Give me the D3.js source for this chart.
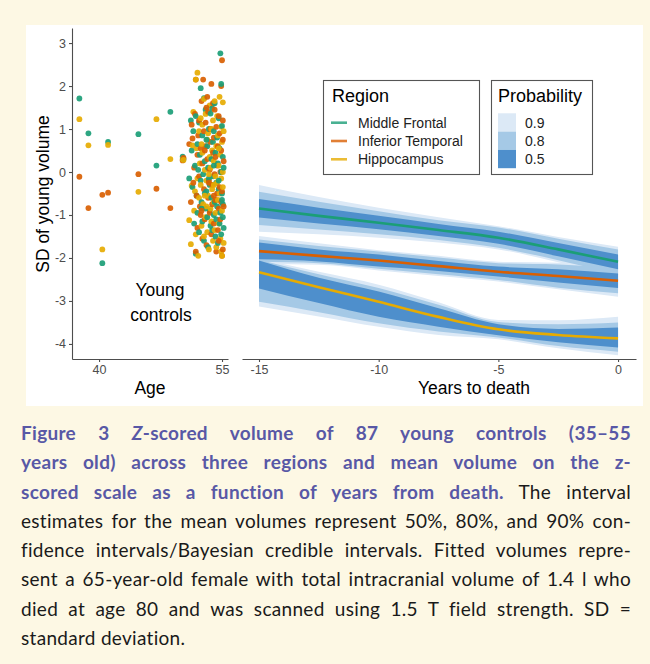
<!DOCTYPE html>
<html>
<head>
<meta charset="utf-8">
<script src="https://cdn.jsdelivr.net/npm/d3@7"></script>
<style>
  body { margin: 0; background: #fdf8e4; }
  #wrap { position: relative; width: 650px; height: 664px; }
  #chart { position: absolute; left: 0; top: 0; }
  #caption { position: absolute; left: 21px; top: 418px; width: 610px;
             font-family: Lato, "Open Sans", sans-serif; font-size: 19px; letter-spacing: 0.3px;
             line-height: 29.3px; color: #1a1a1a; }
  #caption .ln { text-align: justify; text-align-last: justify; white-space: nowrap; }
  #caption .ln.last { text-align-last: left; }
  #caption b { color: #5858a6; }
</style>
</head>
<body>
<div id="wrap">
  <svg id="chart" width="650" height="420"></svg>
  <div id="caption"></div>
</div>
<script>
// ---- data -------------------------------------------------------------
var regionNames = ["Middle Frontal", "Inferior Temporal", "Hippocampus"];
var regionColors = ["#1b9e77", "#d95f02", "#e6ab02"];
var probLabels = ["0.9", "0.8", "0.5"];
var probColors = ["#dce9f6", "#a5c9e6", "#4e8fcc"];

var ageTicks = [40, 55];
var sdTicks = [-4, -3, -2, -1, 0, 1, 2, 3];
var yearTicks = [-15, -10, -5, 0];

// young controls: age and z-scored volume per region (one entry per subject)
var controlAge = [37.6, 38.7, 40.4, 41.1, 44.8, 47.0, 48.7,
  50.2, 50.3, 51.0, 51.2, 51.3, 51.4, 51.5, 51.6, 51.7, 51.8, 51.8, 51.9, 52.0, 52.0, 52.1, 52.2,
  52.2, 52.3, 52.4, 52.4, 52.5, 52.6, 52.6, 52.7, 52.8, 52.8, 52.9, 53.0, 53.0, 53.1, 53.2, 53.2,
  53.3, 53.3, 53.4, 53.5, 53.5, 53.6, 53.6, 53.7, 53.7, 53.8, 53.8, 53.9, 53.9, 54.0, 54.0, 54.1,
  54.1, 54.2, 54.2, 54.3, 54.3, 54.4, 54.4, 54.5, 54.5, 54.6, 54.6, 54.7, 54.7, 54.8, 54.8, 54.9,
  54.9, 54.9, 55.0, 55.0, 55.0, 55.1, 55.1, 55.1, 55.2, 55.2, 53.4, 52.9, 54.0, 53.1, 54.6, 52.5];
var mfVol = [1.71, 0.90, -2.12, 0.70, 0.88, 0.15, 1.40,
  0.36, 0.30, -0.15, 1.20, 0.50, -0.35, 0.95, -1.20, 0.15, -1.90, 1.30, -0.55, 0.65, -0.95, 0.05, 1.15,
  -1.40, 0.40, -0.20, 1.95, -0.70, 0.85, -1.15, -0.05, 1.72, -1.60, 0.25, -0.85, 1.45, -0.45, 0.60, -1.05,
  0.10, -1.75, 1.00, -0.30, -0.90, 1.36, -1.25, 0.30, -0.60, 1.48, -1.35, 0.70, -0.10, -1.00, 0.95, -0.70,
  1.60, -1.50, 0.45, -0.25, -1.10, 0.80, -0.80, 0.20, -1.65, 1.25, -0.40, -1.20, 0.55, 2.76, -0.95, 0.00,
  -1.45, 2.05, -0.65, 1.07, -0.50, -1.05, 0.35, -0.75, 0.10, -1.30, -0.15, -0.50, 0.15, 0.75, -0.20, -0.85];
var itVol = [-0.11, -0.84, -0.53, -0.48, -0.05, -0.39, -0.84,
  0.27, 0.33, 0.65, -0.70, 1.10, 0.78, -0.25, 0.10, 1.35, -1.85, 2.15, -0.55, 0.40, -1.30, 0.85, 1.20,
  -0.10, -0.80, 0.55, -1.00, 1.65, 0.20, -1.55, 2.15, 0.95, -0.40, -1.10, 1.15, 0.60, -1.70, 1.75, 0.30,
  -0.60, 1.40, -0.20, 0.05, -0.95, 1.00, 0.70, -1.45, 2.05, -0.30, -0.75, 0.45, 1.60, -1.20, 0.80, -0.05,
  1.45, -0.65, 0.35, -1.85, 1.05, -0.50, 0.15, -1.35, 0.60, -0.85, 1.30, -0.35, 0.90, 0.00, -1.10, 2.00,
  -0.70, 0.50, -1.95, 2.60, -0.45, 1.20, -1.80, 0.75, -0.80, 0.25, -0.25, 0.50, -0.55, 1.50, -1.60, -0.90];
var hcVol = [1.23, 0.62, -1.80, 0.63, -0.46, 1.23, 0.30,
  0.30, 0.28, -1.12, -1.68, -0.32, 0.62, 1.40, -0.90, -0.45, -1.45, 2.15, 0.55, 2.31, -0.15, -1.95, 0.95,
  -0.60, 0.20, 1.25, -0.30, -1.25, 0.45, 1.10, -0.75, 1.70, -1.50, 0.05, -1.05, 1.35, -0.20, 0.75, -1.40,
  0.90, -0.55, -1.80, 0.35, 1.55, -0.85, 0.10, -1.15, 1.00, -0.40, 0.50, -1.60, 1.20, -0.70, 0.25, -1.35,
  1.65, -0.10, -0.95, 0.60, -1.75, 1.30, -0.25, 0.85, -0.65, -1.20, 0.15, 1.75, -0.50, -1.55, 0.40, -0.15,
  1.05, -1.85, 0.70, -0.90, -1.95, 0.00, 1.62, -0.35, -1.65, 0.95, -0.05, -0.55, -0.30, -0.80, 0.55, 0.65];

// fitted mean volume and intervals vs years to death
var fitYears = [-15, -12.5, -10, -7.5, -5, -2.5, 0];

var mfMean = [-0.85, -1.02, -1.18, -1.35, -1.53, -1.80, -2.09];
var mfLo50 = [-1.06, -1.20, -1.33, -1.49, -1.67, -1.96, -2.26];
var mfHi50 = [-0.63, -0.83, -1.02, -1.21, -1.39, -1.65, -1.92];
var mfLo80 = [-1.23, -1.34, -1.45, -1.58, -1.76, -2.05, -2.39];
var mfHi80 = [-0.46, -0.69, -0.91, -1.12, -1.29, -1.55, -1.80];
var mfLo90 = [-1.39, -1.45, -1.53, -1.64, -1.80, -2.10, -2.44];
var mfHi90 = [-0.30, -0.58, -0.83, -1.05, -1.26, -1.51, -1.74];

var itMean = [-1.84, -1.95, -2.06, -2.19, -2.32, -2.42, -2.53];
var itLo50 = [-2.03, -2.08, -2.20, -2.30, -2.43, -2.57, -2.70];
var itHi50 = [-1.64, -1.80, -1.92, -2.07, -2.20, -2.26, -2.36];
var itLo80 = [-2.09, -2.12, -2.25, -2.38, -2.51, -2.69, -2.82];
var itHi80 = [-1.57, -1.72, -1.85, -1.99, -2.12, -2.15, -2.23];
var itLo90 = [-2.14, -2.16, -2.29, -2.42, -2.55, -2.73, -2.90];
var itHi90 = [-1.49, -1.66, -1.82, -1.95, -2.09, -2.11, -2.16];

var hcMean = [-2.33, -2.68, -3.02, -3.37, -3.66, -3.79, -3.87];
var hcLo50 = [-2.71, -3.05, -3.37, -3.60, -3.80, -3.96, -4.08];
var hcHi50 = [-2.06, -2.46, -2.78, -3.17, -3.54, -3.65, -3.62];
var hcLo80 = [-3.02, -3.26, -3.52, -3.71, -3.85, -4.05, -4.18];
var hcHi80 = [-2.04, -2.38, -2.70, -3.09, -3.49, -3.54, -3.50];
var hcLo90 = [-3.13, -3.36, -3.60, -3.79, -3.89, -4.10, -4.26];
var hcHi90 = [-2.02, -2.32, -2.62, -3.03, -3.44, -3.45, -3.37];

var captionLines = [
  "<b>Figure 3 <i>Z</i>-scored volume of 87 young controls (35–55</b>",
  "<b>years old) across three regions and mean volume on the z-</b>",
  "<b>scored scale as a function of years from death.</b> The interval",
  "estimates for the mean volumes represent 50%, 80%, and 90% con-",
  "fidence intervals/Bayesian credible intervals. Fitted volumes repre-",
  "sent a 65-year-old female with total intracranial volume of 1.4 l who",
  "died at age 80 and was scanned using 1.5 T field strength. SD =",
  "standard deviation."
];

// ---- drawing ----------------------------------------------------------
var font = "'Liberation Sans', Arial, sans-serif";
var axisGrey = "#4d4d4d";

var svg = d3.select("#chart");

// white plot panel on the cream page
svg.append("rect").attr("x", 26).attr("y", 25).attr("width", 617).attr("height", 381).attr("fill", "#ffffff");

// shared y scale, two x scales (domains padded like ggplot's expansion)
var y = d3.scaleLinear().domain([-4.35, 3.35]).range([359, 28]);
var xAge = d3.scaleLinear().domain([36.7, 55.73]).range([72, 228]);
var xYear = d3.scaleLinear().domain([-15.71, 0.75]).range([242, 636]);

// plain hyphen for negatives, like the original
var tickFmt = function (d) { return String(d); };

function styleAxis(g) {
    g.select(".domain").attr("stroke", axisGrey).attr("stroke-width", 1.1);
    g.selectAll(".tick line").attr("stroke", axisGrey).attr("stroke-width", 1.1);
    g.selectAll(".tick text").attr("fill", axisGrey).attr("font-size", 12.5).attr("font-family", font);
}

// left panel axes
svg.append("g").attr("transform", "translate(72,0)")
    .call(d3.axisLeft(y).tickValues(sdTicks).tickSize(3).tickSizeOuter(0).tickPadding(3).tickFormat(tickFmt))
    .call(styleAxis);
svg.append("g").attr("transform", "translate(0,359)")
    .call(d3.axisBottom(xAge).tickValues(ageTicks).tickSize(3).tickSizeOuter(0).tickPadding(3).tickFormat(tickFmt))
    .call(styleAxis);
// right panel x axis
svg.append("g").attr("transform", "translate(0,359)")
    .call(d3.axisBottom(xYear).tickValues(yearTicks).tickSize(3).tickSizeOuter(0).tickPadding(3).tickFormat(tickFmt))
    .call(styleAxis);

// axis titles
svg.append("text").attr("transform", "translate(49,194) rotate(-90)")
    .attr("text-anchor", "middle").attr("font-family", font).attr("font-size", 17.5)
    .text("SD of young volume");
svg.append("text").attr("x", 150).attr("y", 394).attr("text-anchor", "middle")
    .attr("font-family", font).attr("font-size", 17.5).text("Age");
svg.append("text").attr("x", 474).attr("y", 394).attr("text-anchor", "middle")
    .attr("font-family", font).attr("font-size", 17.5).text("Years to death");

// "Young controls" annotation
svg.append("text").attr("x", 160).attr("y", 296).attr("text-anchor", "middle")
    .attr("font-family", font).attr("font-size", 17.5).text("Young");
svg.append("text").attr("x", 161).attr("y", 321).attr("text-anchor", "middle")
    .attr("font-family", font).attr("font-size", 17.5).text("controls");

// scatter of young controls, three points per subject
var pts = [];
controlAge.forEach(function (a, i) {
    pts.push({ age: a, v: mfVol[i], r: 0 });
    pts.push({ age: a, v: itVol[i], r: 1 });
    pts.push({ age: a, v: hcVol[i], r: 2 });
});
svg.append("g").selectAll("circle").data(pts).enter().append("circle")
    .attr("cx", function (d) { return xAge(d.age); })
    .attr("cy", function (d) { return y(d.v); })
    .attr("r", 2.9)
    .attr("fill", function (d) { return regionColors[d.r]; })
    .attr("fill-opacity", 0.92);

// interval ribbons: widest first so narrower ones sit on top
var fits = [
    { mean: mfMean, bands: [[mfLo90, mfHi90], [mfLo80, mfHi80], [mfLo50, mfHi50]] },
    { mean: itMean, bands: [[itLo90, itHi90], [itLo80, itHi80], [itLo50, itHi50]] },
    { mean: hcMean, bands: [[hcLo90, hcHi90], [hcLo80, hcHi80], [hcLo50, hcHi50]] }
];
var bandGroup = svg.append("g");
[0, 1, 2].forEach(function (level) {
    fits.forEach(function (f) {
        var lo = f.bands[level][0], hi = f.bands[level][1];
        var area = d3.area()
            .x(function (d, i) { return xYear(fitYears[i]); })
            .y0(function (d, i) { return y(lo[i]); })
            .y1(function (d, i) { return y(hi[i]); })
            .curve(d3.curveMonotoneX);
        bandGroup.append("path").datum(fitYears).attr("d", area).attr("fill", probColors[level]);
    });
});
fits.forEach(function (f, r) {
    var line = d3.line()
        .x(function (d, i) { return xYear(fitYears[i]); })
        .y(function (d, i) { return y(f.mean[i]); })
        .curve(d3.curveMonotoneX);
    svg.append("path").datum(fitYears).attr("d", line)
        .attr("fill", "none").attr("stroke", regionColors[r]).attr("stroke-width", 2.6);
});

// legend: Region
var lg = svg.append("g");
lg.append("rect").attr("x", 323.5).attr("y", 80.5).attr("width", 156).attr("height", 94)
    .attr("fill", "#fff").attr("stroke", "#555").attr("stroke-width", 1.1);
lg.append("text").attr("x", 332).attr("y", 102).attr("font-family", font).attr("font-size", 18).text("Region");
regionNames.forEach(function (n, i) {
    var cy = 122.7 + i * 18.3;
    lg.append("line").attr("x1", 331).attr("x2", 347).attr("y1", cy).attr("y2", cy)
        .attr("stroke", regionColors[i]).attr("stroke-width", 2.6).attr("stroke-opacity", 0.8);
    lg.append("text").attr("x", 358).attr("y", cy + 5).attr("font-family", font).attr("font-size", 14)
        .attr("fill", "#222").text(n);
});

// legend: Probability
var pg = svg.append("g");
pg.append("rect").attr("x", 491.5).attr("y", 80.5).attr("width", 101).attr("height", 94)
    .attr("fill", "#fff").attr("stroke", "#555").attr("stroke-width", 1.1);
pg.append("text").attr("x", 498).attr("y", 102).attr("font-family", font).attr("font-size", 18).text("Probability");
probLabels.forEach(function (p, i) {
    pg.append("rect").attr("x", 498).attr("y", 113.3 + i * 18.3).attr("width", 18).attr("height", 18.3)
        .attr("fill", probColors[i]);
    pg.append("text").attr("x", 525).attr("y", 122.7 + i * 18.3 + 5).attr("font-family", font)
        .attr("font-size", 14).attr("fill", "#222").text(p);
});

// caption below the figure
d3.select("#caption").selectAll("div").data(captionLines).enter().append("div")
    .attr("class", function (d, i) { return i === captionLines.length - 1 ? "ln last" : "ln"; })
    .html(function (d) { return d; });
</script>
</body>
</html>
